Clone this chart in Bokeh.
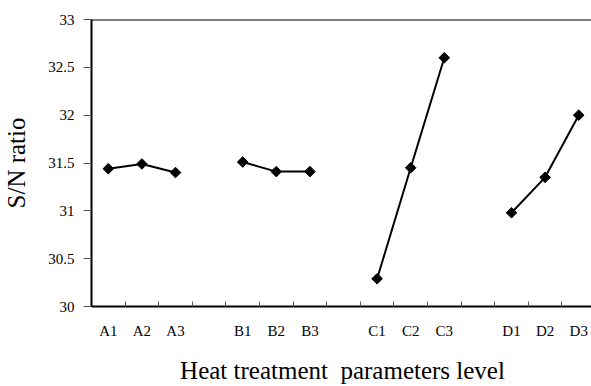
import math
from bokeh.plotting import figure
from bokeh.models import FixedTicker, Span
from bokeh.embed import file_html
from bokeh.resources import INLINE

# Data
factors = ["A", "B", "C", "D"]
levels = ["1", "2", "3"]
sn_A = [31.44, 31.49, 31.40]
sn_B = [31.51, 31.41, 31.41]
sn_C = [30.29, 31.45, 32.60]
sn_D = [30.98, 31.35, 32.00]
y_ticks = [30, 30.5, 31, 31.5, 32, 32.5, 33]
y_tick_labels = ["30", "30.5", "31", "31.5", "32", "32.5", "33"]

series = [sn_A, sn_B, sn_C, sn_D]

FONT = "'Liberation Serif', 'Times New Roman', serif"

p = figure(frame_width=502, frame_height=287, output_backend="svg", toolbar_location=None,
           x_range=(-0.5, 14.44), y_range=(30, 33),
           min_border_left=89, min_border_top=19, min_border_right=0, min_border_bottom=80)
p.outline_line_color = None
p.grid.grid_line_color = None
p.background_fill_color = "white"
p.border_fill_color = "white"

tick_pos = []
tick_lab = []
for gi, (f, vals) in enumerate(zip(factors, series)):
    xs = [gi * 4 + li for li in range(len(levels))]
    for x, lv in zip(xs, levels):
        tick_pos.append(x)
        tick_lab.append(f + lv)
    p.line(xs, vals, line_color="black", line_width=2)
    p.scatter(xs, vals, marker="square", angle=math.pi / 4, size=7.5,
              fill_color="black", line_color="black", line_width=1)

minor = [i + 0.5 for i in range(14)]
p.xaxis.ticker = FixedTicker(ticks=tick_pos, minor_ticks=minor)
p.xaxis.major_label_overrides = {x: l for x, l in zip(tick_pos, tick_lab)}
p.xaxis.major_tick_line_color = None
p.xaxis.minor_tick_in = 5
p.xaxis.minor_tick_out = 0
p.xaxis.minor_tick_line_color = "#555555"
p.xaxis.minor_tick_line_width = 1
p.xaxis.axis_line_width = 2
p.xaxis.axis_line_color = "black"
p.xaxis.major_label_text_font = FONT
p.xaxis.major_label_text_font_size = "15px"
p.xaxis.major_label_text_color = "black"
p.xaxis.major_label_standoff = 10
p.xaxis.axis_label = "Heat treatment\u00a0 parameters level"
p.xaxis.axis_label_text_font = FONT
p.xaxis.axis_label_text_font_size = "25px"
p.xaxis.axis_label_text_font_style = "normal"
p.xaxis.axis_label_text_color = "black"
p.xaxis.axis_label_standoff = 15

p.yaxis.ticker = FixedTicker(ticks=y_ticks, minor_ticks=[])
p.yaxis.major_label_overrides = {t: l for t, l in zip(y_ticks, y_tick_labels)}
p.yaxis.major_tick_in = 0
p.yaxis.major_tick_out = 8
p.yaxis.major_tick_line_width = 1
p.yaxis.major_tick_line_color = "#555555"
p.yaxis.axis_line_width = 2
p.yaxis.axis_line_color = "black"
p.yaxis.major_label_text_font = FONT
p.yaxis.major_label_text_font_size = "15px"
p.yaxis.major_label_text_color = "black"
p.yaxis.major_label_standoff = 9
p.yaxis.axis_label = "S/N ratio"
p.yaxis.axis_label_text_font = FONT
p.yaxis.axis_label_text_font_size = "25px"
p.yaxis.axis_label_text_font_style = "normal"
p.yaxis.axis_label_text_color = "black"
p.yaxis.axis_label_standoff = 15

p.add_layout(Span(location=33, dimension="width", line_color="black", line_width=2))

open("out.html", "w").write(file_html(p, INLINE))
